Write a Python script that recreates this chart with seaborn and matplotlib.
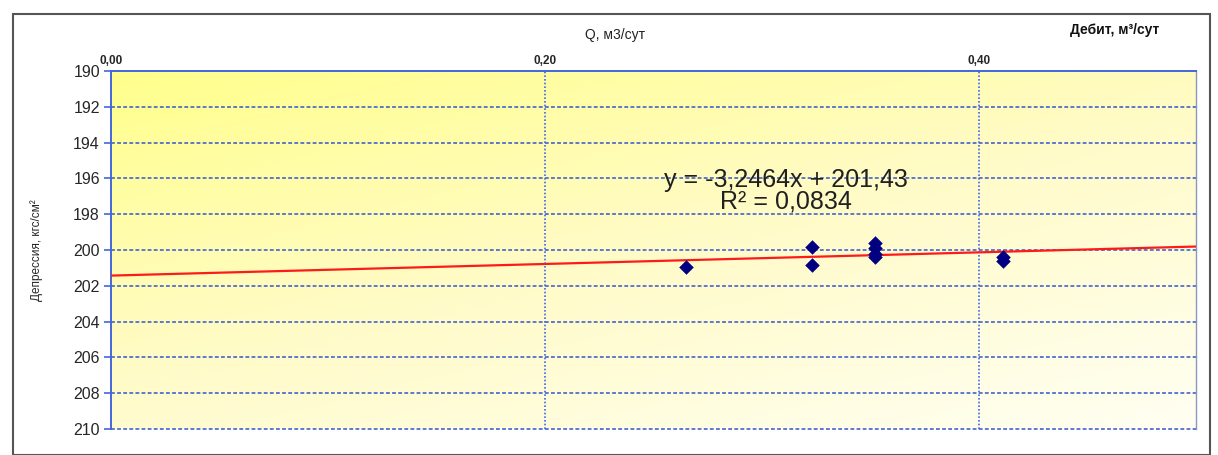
import numpy as np
import pandas as pd
import matplotlib
matplotlib.use("Agg")
import matplotlib.pyplot as plt
import seaborn as sns
from matplotlib.colors import LinearSegmentedColormap
from matplotlib.patches import Rectangle

# ---- data ----
q_values = [0.265, 0.323, 0.323, 0.352, 0.352, 0.352, 0.352, 0.411, 0.411]
depression = [200.95, 199.85, 200.85, 199.6, 199.9, 200.2, 200.4, 200.4, 200.6]
trend_slope = -3.2464
trend_intercept = 201.43
x_ticks = [0.0, 0.2, 0.4]
x_tick_labels = ["0,00", "0,20", "0,40"]
y_ticks = list(range(190, 211, 2))
equation_text = "y = -3,2464x + 201,43\nR² = 0,0834"

sns.set_theme(style="white")
plt.rcParams['font.family'] = ['Liberation Sans', 'DejaVu Sans']

fig = plt.figure(figsize=(12.18, 4.55), dpi=100)
ax = fig.add_axes([111/1218, 1-429/455, (1196-111)/1218, (429-71)/455])

# gradient background
cmap = LinearSegmentedColormap.from_list("bg", ["#ffff8c", "#fffbc8", "#fffff2"])
gx, gy = np.meshgrid(np.linspace(0, 1, 200), np.linspace(0, 1, 100))
grad = (gx * 0.6 + gy * 0.8) / 1.4
ax.imshow(grad, cmap=cmap, extent=[0, 1, 0, 1], transform=ax.transAxes,
          aspect="auto", zorder=0, origin="upper")

df = pd.DataFrame({"Q": q_values, "dP": depression})

# trend line
xs = np.array([0.0, 0.5])
ax.plot(xs, trend_slope * xs + trend_intercept, color="#ff1a1a", lw=1.6, zorder=3)

sns.scatterplot(data=df, x="Q", y="dP", marker="D", s=55, color="#000080",
                edgecolor="#000080", linewidth=0, ax=ax, zorder=4)

ax.set_xlim(0, 0.5)
ax.set_ylim(210, 190)
ax.set_yticks(y_ticks)
ax.set_xticks(x_ticks)
ax.set_xticklabels(x_tick_labels, fontsize=8.5, fontweight="bold")
ax.set_yticklabels([str(v) for v in y_ticks], fontsize=11.5)
ax.xaxis.tick_top()
ax.tick_params(axis="x", length=0, pad=3)
ax.tick_params(axis="y", length=5, width=1.2, color="#4466dd", direction="out", left=True, pad=3)
ax.set_xlabel("")
ax.set_ylabel("Депрессия, кгс/см²", fontsize=8.5, labelpad=22)

for y in y_ticks[1:]:
    ax.axhline(y, color="#3355cc", lw=1.1, ls=(0, (2.5, 1.5)), zorder=1, clip_on=False)
for x in [0.2, 0.4]:
    ax.axvline(x, color="#3f66ee", lw=1.2, ls=(0, (1, 1.2)), zorder=1)

for s in ["top", "left"]:
    ax.spines[s].set_color("#4466dd")
    ax.spines[s].set_linewidth(1.4)
ax.spines["right"].set_color("#8899bb")
ax.spines["right"].set_linewidth(1.0)
ax.spines["bottom"].set_visible(False)

ax.text(0.311, 196.7, equation_text, fontsize=18, ha="center", va="center",
        color="#202020", linespacing=0.85, zorder=5)

fig.text(615/1218, 1-35/455, "Q, м3/сут", fontsize=10, ha="center", va="center", color="#222222")
fig.text(1115/1218, 1-30/455, "Дебит, м³/сут", fontsize=10, ha="center", va="center",
         fontweight="bold", color="#111111")

# outer chart frame
fig.patches.append(Rectangle((13/1218, 0), (1210-13)/1218, 1-14/455, transform=fig.transFigure,
                             fill=False, edgecolor="#555555", lw=1.5))

fig.savefig("out.png", dpi=100)
